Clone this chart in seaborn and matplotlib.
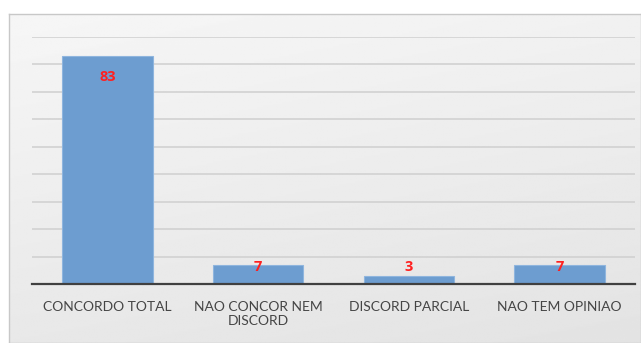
import numpy as np
import pandas as pd
import matplotlib
matplotlib.use('Agg')
import matplotlib.pyplot as plt
import seaborn as sns

# data
categories = ['CONCORDO TOTAL', 'NAO CONCOR NEM\nDISCORD', 'DISCORD PARCIAL', 'NAO TEM OPINIAO']
values = [83, 7, 3, 7]

df = pd.DataFrame({'cat': categories, 'val': values})

sns.set_style('white')
plt.rcParams['font.family'] = ['Lato', 'DejaVu Sans']

W, H = 641, 343
fig = plt.figure(figsize=(W / 100, H / 100), dpi=100)
fig.patch.set_facecolor('white')

# chart area background with a soft grey gradient
bg = fig.add_axes([9 / W, 0, 1 - 9 / W, 1 - 14 / H])
yy, xx = np.mgrid[0:1:200j, 0:1:200j]
grad = 0.965 - 0.055 * yy - 0.02 * xx
bg.imshow(grad, cmap='gray', vmin=0, vmax=1, aspect='auto', extent=[0, 1, 0, 1], origin='upper')
bg.set_xticks([])
bg.set_yticks([])
for s in bg.spines.values():
    s.set_color('#c8c8c8')
    s.set_linewidth(1)

ax = fig.add_axes([32 / W, 1 - 284 / H, (635 - 32) / W, (284 - 37) / H])
ax.patch.set_alpha(0)

sns.barplot(data=df, x='cat', y='val', color='#6d9dd0', width=0.6,
            edgecolor='#8fb5de', linewidth=0.8, saturation=1, ax=ax, zorder=3)

ax.set_xlim(-0.5, 3.5)
ax.set_ylim(0, 90)
ax.set_yticks(np.arange(10, 91, 10))
ax.yaxis.grid(True, color='#cfcfcf', linewidth=1.1, zorder=0)
ax.set_axisbelow(True)
ax.tick_params(axis='y', left=False, labelleft=False)
ax.tick_params(axis='x', bottom=False, labelsize=10, labelcolor='#454545', pad=9)
ax.set_xlabel('')
ax.set_ylabel('')
for s in ['top', 'right', 'left']:
    ax.spines[s].set_visible(False)
ax.spines['bottom'].set_color('#404040')
ax.spines['bottom'].set_linewidth(1.6)
ax.spines['bottom'].set_zorder(4)

lab = dict(ha='center', va='center', color='#ff2020', fontsize=10.5,
           fontweight='bold', family=['Open Sans', 'DejaVu Sans'], zorder=5)
for i, v in enumerate(values):
    if v > 20:
        ax.annotate(str(v), (i, v), xytext=(0, -15), textcoords='offset points', **lab)
    else:
        ax.text(i, 6.3, str(v), **lab)

fig.savefig('out.png', dpi=100)
